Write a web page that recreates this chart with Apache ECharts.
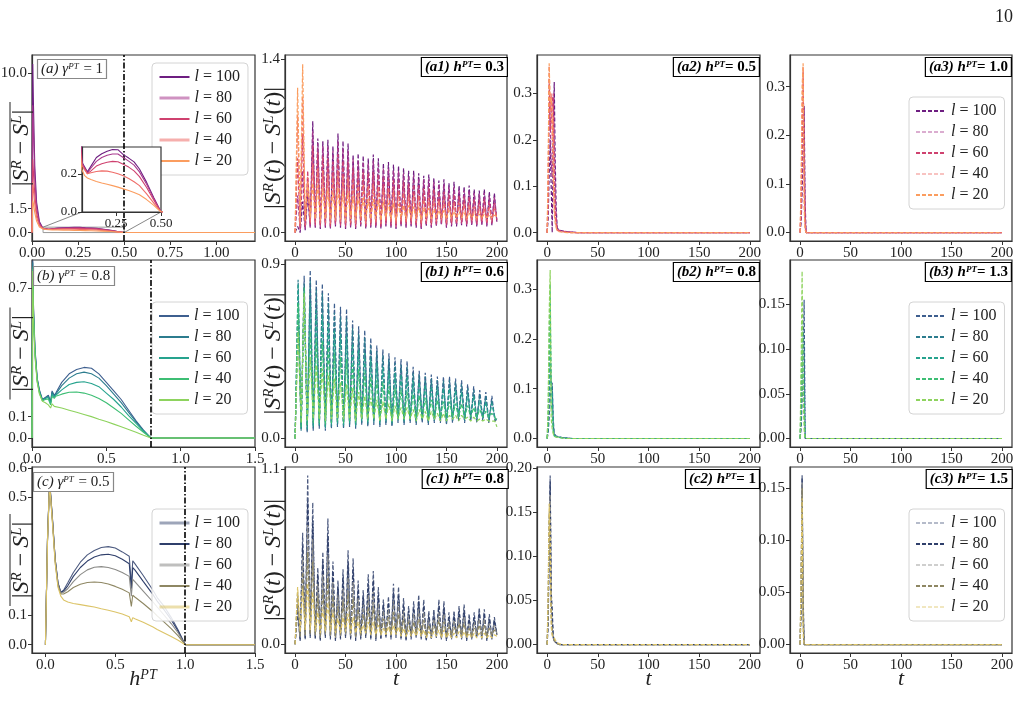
<!DOCTYPE html>
<html>
<head>
<meta charset="utf-8">
<script src="https://cdn.jsdelivr.net/npm/echarts@6/dist/echarts.min.js"></script>
<style>
  html, body { margin: 0; background: #fff; }
  #main { width: 1027px; height: 715px; }
</style>
</head>
<body>
<div id="main"></div>
<script>
// ---- data ----
const lLabels = ["100", "80", "60", "40", "20"];

// column 1: time-averaged |S^R - S^L| vs h^PT
const hA = [0, 0.004, 0.008, 0.015, 0.025, 0.04, 0.06, 0.075, 0.09, 0.11, 0.14, 0.17, 0.2, 0.23, 0.26, 0.29, 0.32, 0.35, 0.38, 0.42, 0.46, 0.5, 0.6, 0.8, 1.0, 1.21];
const aL100 = [0, 10.6, 8.0, 4.2, 1.9, 0.7, 0.26, 0.235, 0.21, 0.24, 0.285, 0.305, 0.318, 0.327, 0.326, 0.3, 0.282, 0.262, 0.225, 0.155, 0.075, 0, 0, 0, 0, 0];
const aL80 = [0, 8.0, 6.3, 3.4, 1.6, 0.6, 0.255, 0.23, 0.205, 0.23, 0.265, 0.285, 0.297, 0.303, 0.303, 0.285, 0.266, 0.245, 0.21, 0.145, 0.07, 0, 0, 0, 0, 0];
const aL60 = [0, 4.6, 3.8, 2.4, 1.2, 0.5, 0.25, 0.225, 0.2, 0.215, 0.24, 0.252, 0.26, 0.265, 0.263, 0.25, 0.235, 0.215, 0.185, 0.128, 0.062, 0, 0, 0, 0, 0];
const aL40 = [0, 3.2, 2.7, 1.8, 0.95, 0.42, 0.245, 0.22, 0.2, 0.205, 0.212, 0.215, 0.214, 0.208, 0.2, 0.19, 0.175, 0.158, 0.138, 0.095, 0.046, 0, 0, 0, 0, 0];
const aL20 = [0, 2.0, 1.8, 1.25, 0.72, 0.35, 0.22, 0.19, 0.178, 0.17, 0.16, 0.152, 0.145, 0.138, 0.13, 0.121, 0.112, 0.102, 0.09, 0.065, 0.035, 0, 0, 0, 0, 0];

const hB = [0, 0.005, 0.01, 0.02, 0.035, 0.05, 0.07, 0.09, 0.11, 0.125, 0.135, 0.15, 0.16, 0.2, 0.25, 0.3, 0.35, 0.4, 0.45, 0.5, 0.55, 0.6, 0.65, 0.7, 0.75, 0.8, 1.0, 1.5];
const bL100 = [0, 0.83, 0.62, 0.42, 0.28, 0.225, 0.18, 0.19, 0.2, 0.17, 0.22, 0.2, 0.21, 0.26, 0.3, 0.32, 0.33, 0.326, 0.3, 0.26, 0.22, 0.18, 0.13, 0.08, 0.037, 0, 0, 0];
const bL80 = [0, 0.82, 0.6, 0.41, 0.275, 0.22, 0.178, 0.188, 0.195, 0.165, 0.215, 0.195, 0.205, 0.245, 0.28, 0.3, 0.308, 0.3, 0.28, 0.245, 0.205, 0.165, 0.12, 0.075, 0.035, 0, 0, 0];
const bL60 = [0, 0.8, 0.58, 0.4, 0.27, 0.215, 0.176, 0.185, 0.19, 0.16, 0.205, 0.19, 0.2, 0.225, 0.25, 0.26, 0.263, 0.255, 0.24, 0.21, 0.18, 0.145, 0.105, 0.068, 0.032, 0, 0, 0];
const bL40 = [0, 0.79, 0.57, 0.39, 0.265, 0.21, 0.174, 0.18, 0.182, 0.155, 0.195, 0.185, 0.195, 0.205, 0.214, 0.215, 0.21, 0.2, 0.185, 0.165, 0.14, 0.115, 0.085, 0.055, 0.027, 0, 0, 0];
const bL20 = [0, 0.78, 0.56, 0.38, 0.26, 0.205, 0.172, 0.165, 0.155, 0.14, 0.16, 0.148, 0.145, 0.14, 0.13, 0.12, 0.11, 0.1, 0.088, 0.077, 0.065, 0.053, 0.04, 0.027, 0.013, 0, 0, 0];

const hC = [0, 0.015, 0.03, 0.05, 0.07, 0.09, 0.11, 0.13, 0.16, 0.2, 0.25, 0.3, 0.35, 0.4, 0.45, 0.5, 0.55, 0.6, 0.615, 0.625, 0.64, 0.7, 0.77, 0.8, 0.85, 0.9, 0.95, 1.0, 1.5];
const cL100 = [0, 0.36, 0.56, 0.43, 0.29, 0.21, 0.178, 0.185, 0.21, 0.245, 0.28, 0.305, 0.32, 0.33, 0.333, 0.328, 0.315, 0.3, 0.2, 0.285, 0.275, 0.235, 0.185, 0.16, 0.13, 0.093, 0.05, 0, 0];
const cL80 = [0, 0.36, 0.555, 0.43, 0.29, 0.21, 0.177, 0.182, 0.2, 0.232, 0.262, 0.284, 0.298, 0.305, 0.307, 0.302, 0.29, 0.275, 0.19, 0.262, 0.254, 0.215, 0.17, 0.148, 0.118, 0.085, 0.046, 0, 0];
const cL60 = [0, 0.355, 0.55, 0.425, 0.285, 0.205, 0.175, 0.178, 0.19, 0.214, 0.238, 0.254, 0.263, 0.265, 0.262, 0.255, 0.245, 0.232, 0.165, 0.222, 0.214, 0.182, 0.145, 0.128, 0.1, 0.072, 0.04, 0, 0];
const cL40 = [0, 0.355, 0.55, 0.42, 0.28, 0.2, 0.172, 0.172, 0.18, 0.194, 0.205, 0.211, 0.213, 0.211, 0.206, 0.198, 0.188, 0.176, 0.13, 0.168, 0.162, 0.14, 0.112, 0.098, 0.077, 0.055, 0.03, 0, 0];
const cL20 = [0, 0.35, 0.545, 0.415, 0.275, 0.195, 0.165, 0.152, 0.145, 0.14, 0.136, 0.132, 0.128, 0.122, 0.117, 0.111, 0.104, 0.095, 0.078, 0.092, 0.088, 0.076, 0.06, 0.052, 0.04, 0.028, 0.015, 0, 0];

// column 2: oscillating |S^R(t) - S^L(t)|
const tA = [0, 2.5, 5, 7.5, 10, 12.5, 15, 17.5, 20, 22.5, 25, 27.5, 30, 32.5, 35, 37.5, 40, 42.5, 45, 47.5, 50, 52.5, 55, 57.5, 60, 62.5, 65, 67.5, 70, 72.5, 75, 77.5, 80, 82.5, 85, 87.5, 90, 92.5, 95, 97.5, 100, 102.5, 105, 107.5, 110, 112.5, 115, 117.5, 120, 122.5, 125, 127.5, 130, 132.5, 135, 137.5, 140, 142.5, 145, 147.5, 150, 152.5, 155, 157.5, 160, 162.5, 165, 167.5, 170, 172.5, 175, 177.5, 180, 182.5, 185, 187.5, 190, 192.5, 195, 197.5, 200];
const tB = [0, 3, 6, 9, 12, 15, 18, 21, 24, 27, 30, 33, 36, 39, 42, 45, 48, 51, 54, 57, 60, 63, 66, 69, 72, 75, 78, 81, 84, 87, 90, 93, 96, 99, 102, 105, 108, 111, 114, 117, 120, 123, 126, 129, 132, 135, 138, 141, 144, 147, 150, 153, 156, 159, 162, 165, 168, 171, 174, 177, 180, 183, 186, 189, 192, 195, 198, 200];

const a1L100 = [0,0.05,0,0.25,0.02,0.3,0.05,0.9,0.04,0.76, 0.03,0.74,0.04,0.75,0.03,0.7,0.05,0.8,0.04,0.74, 0.03,0.72,0.04,0.63,0.03,0.64,0.05,0.62,0.03,0.6, 0.04,0.63,0.04,0.6,0.03,0.56,0.05,0.57,0.04,0.55, 0.03,0.54,0.05,0.52,0.04,0.5,0.05,0.5,0.04,0.48, 0.03,0.46,0.05,0.47,0.04,0.44,0.05,0.42,0.06,0.43, 0.04,0.4,0.05,0.41,0.05,0.38,0.06,0.37,0.05,0.38, 0.06,0.35,0.05,0.34,0.06,0.35,0.05,0.33,0.06,0.32, 0.08];
const a1L80 = [0,0.3,0.02,0.5,0.03,0.35,0.04,0.82,0.05,0.72, 0.04,0.7,0.05,0.7,0.04,0.66,0.06,0.74,0.05,0.68, 0.04,0.66,0.05,0.6,0.04,0.58,0.06,0.57,0.04,0.56, 0.05,0.58,0.05,0.55,0.04,0.52,0.06,0.52,0.05,0.5, 0.04,0.5,0.06,0.48,0.05,0.46,0.06,0.46,0.05,0.44, 0.04,0.43,0.06,0.43,0.05,0.41,0.06,0.39,0.07,0.39, 0.05,0.37,0.06,0.37,0.06,0.35,0.07,0.34,0.06,0.34, 0.07,0.32,0.06,0.31,0.07,0.32,0.06,0.3,0.07,0.29, 0.09];
const a1L60 = [0,0.6,0.03,0.8,0.05,0.5,0.06,0.7,0.06,0.65, 0.05,0.62,0.06,0.6,0.05,0.57,0.07,0.63,0.06,0.58, 0.05,0.57,0.06,0.52,0.05,0.5,0.07,0.49,0.05,0.48, 0.06,0.49,0.06,0.47,0.05,0.45,0.07,0.44,0.06,0.43, 0.05,0.42,0.07,0.41,0.06,0.39,0.07,0.39,0.06,0.38, 0.05,0.36,0.07,0.36,0.06,0.35,0.07,0.33,0.08,0.33, 0.06,0.31,0.07,0.31,0.07,0.3,0.08,0.29,0.07,0.29, 0.08,0.27,0.07,0.26,0.08,0.27,0.07,0.25,0.08,0.24, 0.1];
const a1L40 = [0,0.95,0.05,1.1,0.06,0.45,0.08,0.55,0.08,0.52, 0.07,0.5,0.08,0.48,0.07,0.46,0.09,0.5,0.08,0.46, 0.07,0.45,0.08,0.42,0.07,0.4,0.09,0.39,0.07,0.38, 0.08,0.39,0.08,0.37,0.07,0.36,0.09,0.35,0.08,0.34, 0.07,0.33,0.09,0.32,0.08,0.31,0.09,0.31,0.08,0.3, 0.07,0.29,0.09,0.28,0.08,0.27,0.09,0.26,0.1,0.26, 0.08,0.25,0.09,0.24,0.09,0.24,0.1,0.23,0.09,0.22, 0.1,0.21,0.09,0.21,0.1,0.2,0.09,0.2,0.1,0.19, 0.12];
const a1L20 = [0,1.17,0.08,1.36,0.1,0.4,0.12,0.4,0.11,0.38, 0.1,0.36,0.11,0.35,0.1,0.33,0.12,0.36,0.11,0.33, 0.1,0.32,0.11,0.3,0.1,0.29,0.12,0.28,0.1,0.27, 0.11,0.27,0.11,0.26,0.1,0.25,0.12,0.24,0.11,0.24, 0.1,0.23,0.12,0.22,0.11,0.22,0.12,0.21,0.11,0.21, 0.1,0.2,0.12,0.2,0.11,0.19,0.12,0.18,0.12,0.18, 0.11,0.18,0.12,0.17,0.12,0.17,0.12,0.16,0.12,0.16, 0.12,0.15,0.12,0.15,0.12,0.15,0.12,0.14,0.12,0.14, 0.13];

const b1L100 = [0,0.6,0.05,0.84,0.03,0.87,0.04,0.82,0.05,0.8, 0.04,0.75,0.05,0.7,0.06,0.68,0.05,0.67,0.06,0.61, 0.05,0.58,0.07,0.56,0.06,0.52,0.07,0.48,0.06,0.46, 0.07,0.44,0.06,0.42,0.08,0.41,0.07,0.4,0.08,0.37, 0.07,0.35,0.08,0.34,0.07,0.33,0.08,0.32,0.08,0.32, 0.07,0.32,0.08,0.31,0.09,0.3,0.08,0.28,0.09,0.27, 0.08,0.25,0.09,0.24,0.08,0.22,0.09,0.1];
const b1L80 = [0,0.82,0.04,0.8,0.04,0.82,0.05,0.77,0.06,0.75, 0.05,0.7,0.06,0.65,0.07,0.63,0.06,0.62,0.07,0.57, 0.06,0.54,0.08,0.52,0.07,0.48,0.08,0.45,0.07,0.43, 0.08,0.41,0.07,0.39,0.09,0.38,0.08,0.37,0.09,0.34, 0.08,0.33,0.09,0.32,0.08,0.31,0.09,0.3,0.09,0.3, 0.08,0.3,0.09,0.29,0.1,0.28,0.09,0.26,0.1,0.25, 0.09,0.23,0.1,0.22,0.09,0.2,0.1,0.1];
const b1L60 = [0,0.8,0.05,0.72,0.05,0.7,0.06,0.66,0.07,0.64, 0.06,0.6,0.07,0.56,0.08,0.54,0.07,0.53,0.08,0.49, 0.07,0.46,0.09,0.44,0.08,0.41,0.09,0.39,0.08,0.37, 0.09,0.35,0.08,0.34,0.1,0.33,0.09,0.32,0.1,0.3, 0.09,0.29,0.1,0.28,0.09,0.27,0.1,0.26,0.1,0.26, 0.09,0.26,0.1,0.25,0.11,0.24,0.1,0.23,0.11,0.22, 0.1,0.2,0.11,0.19,0.1,0.18,0.11,0.1];
const b1L40 = [0,0.7,0.06,0.78,0.07,0.55,0.08,0.52,0.08,0.5, 0.07,0.47,0.08,0.44,0.09,0.42,0.08,0.41,0.09,0.38, 0.08,0.36,0.1,0.34,0.09,0.32,0.1,0.3,0.09,0.29, 0.1,0.27,0.09,0.26,0.1,0.25,0.1,0.24,0.1,0.23, 0.1,0.22,0.1,0.21,0.1,0.2,0.1,0.2,0.11,0.19, 0.1,0.19,0.11,0.18,0.11,0.18,0.11,0.17,0.11,0.16, 0.11,0.15,0.11,0.14,0.11,0.13,0.11,0.09];
const b1L20 = [0,0.55,0.08,0.75,0.09,0.42,0.1,0.38,0.1,0.36, 0.09,0.33,0.1,0.31,0.1,0.29,0.1,0.28,0.1,0.26, 0.09,0.24,0.1,0.22,0.1,0.21,0.1,0.2,0.09,0.19, 0.1,0.18,0.09,0.17,0.1,0.16,0.1,0.16,0.1,0.15, 0.09,0.15,0.1,0.14,0.09,0.14,0.1,0.13,0.09,0.13, 0.09,0.12,0.1,0.12,0.09,0.12,0.1,0.11,0.09,0.11, 0.09,0.1,0.09,0.1,0.09,0.09,0.09,0.06];

const c1L100 = [0,0.2,0.02,0.7,0.03,1.06,0.04,0.89,0.03,0.48, 0.02,0.58,0.04,0.79,0.03,0.52,0.02,0.4,0.03,0.47, 0.04,0.59,0.03,0.54,0.02,0.4,0.03,0.34,0.04,0.44, 0.03,0.46,0.02,0.36,0.03,0.28,0.04,0.3,0.03,0.38, 0.04,0.36,0.03,0.29,0.02,0.24,0.03,0.27,0.04,0.31, 0.03,0.28,0.02,0.21,0.03,0.22,0.04,0.28,0.03,0.27, 0.02,0.2,0.03,0.21,0.04,0.24,0.03,0.25,0.02,0.19, 0.03,0.2,0.04,0.23,0.03,0.22,0.02,0.19,0.03,0.17, 0.06];
const c1L80 = [0,0.25,0.03,0.62,0.04,0.9,0.05,0.78,0.04,0.44, 0.03,0.52,0.05,0.68,0.04,0.46,0.03,0.36,0.04,0.42, 0.05,0.51,0.04,0.47,0.03,0.35,0.04,0.3,0.05,0.38, 0.04,0.4,0.03,0.31,0.04,0.25,0.05,0.26,0.04,0.33, 0.05,0.31,0.04,0.25,0.03,0.21,0.04,0.23,0.05,0.27, 0.04,0.24,0.03,0.18,0.04,0.19,0.05,0.24,0.04,0.23, 0.03,0.17,0.04,0.18,0.05,0.21,0.04,0.21,0.03,0.16, 0.04,0.17,0.05,0.2,0.04,0.19,0.03,0.16,0.04,0.15, 0.06];
const c1L60 = [0,0.3,0.04,0.55,0.05,0.75,0.06,0.66,0.05,0.38, 0.04,0.44,0.06,0.56,0.05,0.39,0.04,0.31,0.05,0.35, 0.06,0.42,0.05,0.39,0.04,0.29,0.05,0.25,0.06,0.31, 0.05,0.33,0.04,0.26,0.05,0.21,0.06,0.22,0.05,0.27, 0.06,0.26,0.05,0.21,0.04,0.18,0.05,0.19,0.06,0.22, 0.05,0.2,0.04,0.15,0.05,0.16,0.06,0.2,0.05,0.19, 0.04,0.14,0.05,0.15,0.06,0.17,0.05,0.17,0.04,0.13, 0.05,0.14,0.06,0.16,0.05,0.16,0.04,0.13,0.05,0.12, 0.06];
const c1L40 = [0,0.33,0.05,0.45,0.06,0.58,0.07,0.52,0.06,0.3, 0.05,0.34,0.07,0.42,0.06,0.3,0.05,0.24,0.06,0.27, 0.07,0.32,0.06,0.29,0.05,0.22,0.06,0.19,0.07,0.23, 0.06,0.24,0.05,0.19,0.06,0.16,0.07,0.17,0.06,0.2, 0.07,0.19,0.06,0.16,0.05,0.14,0.06,0.14,0.07,0.16, 0.06,0.15,0.05,0.12,0.06,0.12,0.07,0.15,0.06,0.14, 0.05,0.11,0.06,0.11,0.07,0.13,0.06,0.13,0.05,0.1, 0.06,0.1,0.07,0.12,0.06,0.12,0.05,0.1,0.06,0.09, 0.07];
const c1L20 = [0,0.36,0.08,0.35,0.09,0.38,0.09,0.33,0.08,0.2, 0.07,0.22,0.08,0.26,0.08,0.2,0.07,0.16,0.07,0.17, 0.08,0.19,0.07,0.17,0.07,0.14,0.07,0.12,0.07,0.14, 0.06,0.14,0.06,0.12,0.06,0.1,0.06,0.11,0.06,0.12, 0.06,0.11,0.05,0.1,0.05,0.09,0.05,0.09,0.05,0.1, 0.05,0.09,0.04,0.08,0.04,0.08,0.05,0.09,0.04,0.09, 0.04,0.07,0.04,0.07,0.04,0.08,0.04,0.08,0.04,0.07, 0.04,0.07,0.04,0.07,0.04,0.07,0.04,0.06,0.04,0.06, 0.05];

// columns 3 and 4: fast decaying spikes
const tS = [0, 1, 2, 3, 4, 5, 6, 7, 8, 9, 10, 12, 15, 20, 25, 30, 50, 100, 150, 200];
const a2L100 = [0,0.03,0.12,0.2,0.1,0,0.2,0.325,0.15,0.05,0.01,0.005,0.004,0.002,0.001,0,0,0,0,0];
const a2L80 = [0,0.05,0.28,0.25,0.15,0.12,0.29,0.2,0.08,0.03,0.008,0.005,0.003,0.002,0.001,0,0,0,0,0];
const a2L60 = [0,0.08,0.33,0.22,0.24,0.28,0.3,0.12,0.05,0.02,0.006,0.004,0.003,0.001,0,0,0,0,0,0];
const a2L40 = [0,0.1,0.36,0.26,0.3,0.2,0.25,0.06,0.03,0.012,0.005,0.003,0.002,0.001,0,0,0,0,0,0];
const a2L20 = [0,0.15,0.365,0.28,0.29,0.27,0.12,0.04,0.02,0.01,0.004,0.002,0.001,0,0,0,0,0,0,0];

const a3L100 = [0,0.02,0.08,0.16,0.26,0.06,0,0,0,0,0,0,0,0,0,0,0,0,0,0];
const a3L80 = [0,0.04,0.15,0.3,0.2,0.03,0,0,0,0,0,0,0,0,0,0,0,0,0,0];
const a3L60 = [0,0.05,0.2,0.33,0.15,0.02,0,0,0,0,0,0,0,0,0,0,0,0,0,0];
const a3L40 = [0,0.07,0.25,0.34,0.1,0.01,0,0,0,0,0,0,0,0,0,0,0,0,0,0];
const a3L20 = [0,0.1,0.3,0.348,0.05,0.005,0,0,0,0,0,0,0,0,0,0,0,0,0,0];

const b2L100 = [0,0.01,0.04,0.08,0.1,0.112,0.04,0.01,0.006,0.005,0.004,0.003,0.002,0.001,0,0,0,0,0,0];
const b2L80 = [0,0.02,0.08,0.15,0.11,0.105,0.03,0.008,0.005,0.004,0.004,0.003,0.002,0.001,0,0,0,0,0,0];
const b2L60 = [0,0.03,0.12,0.25,0.1,0.09,0.02,0.006,0.005,0.004,0.003,0.002,0.001,0,0,0,0,0,0,0];
const b2L40 = [0,0.05,0.2,0.31,0.07,0.05,0.015,0.005,0.004,0.003,0.003,0.002,0.001,0,0,0,0,0,0,0];
const b2L20 = [0,0.06,0.25,0.338,0.04,0.02,0.01,0.004,0.003,0.003,0.002,0.002,0.001,0,0,0,0,0,0,0];

const b3L100 = [0,0.01,0.04,0.09,0.155,0,0,0,0,0,0,0,0,0,0,0,0,0,0,0];
const b3L80 = [0,0.02,0.07,0.12,0.1,0,0,0,0,0,0,0,0,0,0,0,0,0,0,0];
const b3L60 = [0,0.03,0.1,0.07,0.04,0,0,0,0,0,0,0,0,0,0,0,0,0,0,0];
const b3L40 = [0,0.05,0.13,0.06,0.03,0,0,0,0,0,0,0,0,0,0,0,0,0,0,0];
const b3L20 = [0,0.08,0.187,0.05,0.01,0,0,0,0,0,0,0,0,0,0,0,0,0,0,0];

const c2L100 = [0,0.02,0.1,0.192,0.06,0.042,0.01,0.005,0.003,0.002,0.001,0,0,0,0,0,0,0,0,0];
const c2L80 = [0,0.03,0.12,0.185,0.05,0.03,0.008,0.004,0.003,0.002,0.001,0,0,0,0,0,0,0,0,0];
const c2L60 = [0,0.04,0.14,0.17,0.04,0.02,0.007,0.004,0.002,0.001,0,0,0,0,0,0,0,0,0,0];
const c2L40 = [0,0.05,0.15,0.15,0.03,0.012,0.008,0.005,0.003,0.002,0.001,0,0,0,0,0,0,0,0,0];
const c2L20 = [0,0.06,0.16,0.12,0.02,0.01,0.012,0.008,0.005,0.004,0.002,0.001,0,0,0,0,0,0,0,0];

const c3L100 = [0,0.03,0.162,0.05,0,0,0,0,0,0,0,0,0,0,0,0,0,0,0,0];
const c3L80 = [0,0.04,0.16,0.04,0,0,0,0,0,0,0,0,0,0,0,0,0,0,0,0];
const c3L60 = [0,0.05,0.155,0.03,0,0,0,0,0,0,0,0,0,0,0,0,0,0,0,0];
const c3L40 = [0,0.06,0.15,0.02,0,0,0,0,0,0,0,0,0,0,0,0,0,0,0,0];
const c3L20 = [0,0.07,0.14,0.01,0,0,0,0,0,0,0,0,0,0,0,0,0,0,0,0];

// ---- styling ----
const FONT = "'Liberation Serif', 'DejaVu Serif', serif";
const INK = "#222";
const rowColors = {
  a: ["#6e1e81", "#a8398e", "#cf416f", "#ef6e6a", "#fb9d5f"],
  b: ["#3e5f8f", "#2c7c8e", "#26a38e", "#3dbe74", "#8ed35e"],
  c: ["#4d5b80", "#2f3f6b", "#8b8b88", "#8e8763", "#dcc468"],
};
// legend entries drawn lighter/thicker in the original
const lightInLegend = { a: [1, 3], b: [], c: [0, 2, 4] };

const colLeft = [32, 285, 537, 790];
const colWidth = [223, 222, 223, 222];
const rowTop = [55, 260, 467];
const rowHeight = [186, 187, 186];

const tTicks = [0, 50, 100, 150, 200];
const panels = [
  { id: "a", row: 0, col: 0, x: hA, ys: [aL100, aL80, aL60, aL40, aL20], xr: [0, 1.21], xt: [0, 0.25, 0.5, 0.75, 1.0], xd: 2, yr: [-0.53, 11.16], yt: [0, 1.5, 10], yd: 1, vline: 0.5 },
  { id: "a1", row: 0, col: 1, x: tA, ys: [a1L100, a1L80, a1L60, a1L40, a1L20], yr: [-0.068, 1.435], yt: [0, 1.4], yd: 1 },
  { id: "a2", row: 0, col: 2, x: tS, ys: [a2L100, a2L80, a2L60, a2L40, a2L20], yr: [-0.018, 0.383], yt: [0, 0.1, 0.2, 0.3], yd: 1 },
  { id: "a3", row: 0, col: 3, x: tS, ys: [a3L100, a3L80, a3L60, a3L40, a3L20], yr: [-0.0174, 0.365], yt: [0, 0.1, 0.2, 0.3], yd: 1 },
  { id: "b", row: 1, col: 0, x: hB, ys: [bL100, bL80, bL60, bL40, bL20], xr: [0, 1.5], xt: [0, 0.5, 1.0, 1.5], xd: 1, yr: [-0.042, 0.832], yt: [0, 0.1, 0.7], yd: 1, vline: 0.8 },
  { id: "b1", row: 1, col: 1, x: tB, ys: [b1L100, b1L80, b1L60, b1L40, b1L20], yr: [-0.044, 0.922], yt: [0, 0.9], yd: 1 },
  { id: "b2", row: 1, col: 2, x: tS, ys: [b2L100, b2L80, b2L60, b2L40, b2L20], yr: [-0.017, 0.358], yt: [0, 0.1, 0.2, 0.3], yd: 1 },
  { id: "b3", row: 1, col: 3, x: tS, ys: [b3L100, b3L80, b3L60, b3L40, b3L20], yr: [-0.0095, 0.1995], yt: [0, 0.05, 0.1, 0.15], yd: 2 },
  { id: "c", row: 2, col: 0, x: hC, ys: [cL100, cL80, cL60, cL40, cL20], xr: [-0.096, 1.5], xt: [0, 0.5, 1.0, 1.5], xd: 1, yr: [-0.028, 0.603], yt: [0, 0.1, 0.5, 0.6], yd: 1, vline: 1.0 },
  { id: "c1", row: 2, col: 1, x: tA, ys: [c1L100, c1L80, c1L60, c1L40, c1L20], yr: [-0.055, 1.113], yt: [0, 1.1], yd: 1 },
  { id: "c2", row: 2, col: 2, x: tS, ys: [c2L100, c2L80, c2L60, c2L40, c2L20], yr: [-0.0096, 0.2016], yt: [0, 0.05, 0.1, 0.15, 0.2], yd: 2 },
  { id: "c3", row: 2, col: 3, x: tS, ys: [c3L100, c3L80, c3L60, c3L40, c3L20], yr: [-0.0081, 0.17], yt: [0, 0.05, 0.1, 0.15], yd: 2 },
];

// rich styles for ECharts text (color) and for raw zrender graphic text (fill)
const richMath = (size, key) => {
  const c = {};
  c[key || "color"] = INK;
  const b = {};
  b[key || "color"] = "#000";
  return {
    i: Object.assign({ fontFamily: FONT, fontStyle: "italic", fontWeight: "normal", fontSize: size }, c),
    n: Object.assign({ fontFamily: FONT, fontStyle: "normal", fontWeight: "normal", fontSize: size }, c),
    m: Object.assign({ fontFamily: FONT, fontStyle: "normal", fontWeight: "normal", fontSize: size, padding: [0, 5, 0, 5] }, c),
    s: Object.assign({ fontFamily: FONT, fontStyle: "italic", fontWeight: "normal", fontSize: Math.round(size * 0.62), verticalAlign: "top", padding: [0, 1, 0, 0] }, c),
    bi: Object.assign({ fontFamily: FONT, fontStyle: "italic", fontWeight: "bold", fontSize: size }, b),
    b: Object.assign({ fontFamily: FONT, fontStyle: "normal", fontWeight: "bold", fontSize: size }, b),
    bs: Object.assign({ fontFamily: FONT, fontStyle: "italic", fontWeight: "bold", fontSize: Math.round(size * 0.62), verticalAlign: "top" }, b),
  };
};

function makeAxis(gi, range, ticks, dec, fs, extra) {
  return Object.assign({
    type: "value", gridIndex: gi, min: range[0], max: range[1],
    axisLine: { show: true, onZero: false, lineStyle: { color: "#333", width: 1.2 } },
    axisTick: { show: true, length: 4, customValues: ticks, lineStyle: { color: "#333", width: 1 } },
    axisLabel: { customValues: ticks, formatter: (v) => Number(v).toFixed(dec), fontFamily: FONT, fontSize: fs, color: INK, margin: 5 },
    splitLine: { show: false },
  }, extra || {});
}

const grids = [], xAxes = [], yAxes = [], series = [], legends = [], titles = [];

panels.forEach((p, gi) => {
  grids.push({ left: colLeft[p.col], top: rowTop[p.row], width: colWidth[p.col], height: rowHeight[p.row],
    show: true, borderColor: "#333", borderWidth: 1.2, backgroundColor: "transparent", outerBoundsMode: "none", containLabel: false });
  const isH = p.col === 0;
  const xExtra = {};
  if (p.row === 2) {
    xExtra.name = isH ? "{i|h}{s|PT}" : "{i|t}";
    xExtra.nameLocation = "middle";
    xExtra.nameGap = 15;
    xExtra.nameMoveOverlap = false;
    xExtra.nameTextStyle = { fontFamily: FONT, fontSize: 22, color: INK, rich: richMath(22) };
  }
  xAxes.push(makeAxis(gi, isH ? p.xr : [-10, 210], isH ? p.xt : tTicks, isH ? p.xd : 0, 15, xExtra));
  yAxes.push(makeAxis(gi, p.yr, p.yt, p.yd, 15));

  const rowKey = p.id[0];
  const dashed = p.col > 0;
  p.ys.forEach((ys, k) => {
    const s = {
      name: p.id + ":" + lLabels[k], type: "line", xAxisIndex: gi, yAxisIndex: gi,
      data: p.x.map((x, i) => [x, ys[i]]),
      symbol: "none", showSymbol: false, silent: true, animation: false,
      lineStyle: { color: rowColors[rowKey][k], width: dashed ? 1.2 : 1.1, type: dashed ? [4, 2] : "solid" },
      itemStyle: { color: rowColors[rowKey][k] },
      z: 2 + k * 0.01,
    };
    if (p.vline !== undefined && k === 4) {
      s.markLine = { silent: true, symbol: ["none", "none"], label: { show: false }, animation: false,
        lineStyle: { color: "#000", width: 1.6, type: [6, 2, 1.5, 2] }, data: [{ xAxis: p.vline }] };
    }
    if (p.id === "a" && k === 0) {
      s.markArea = { silent: true, itemStyle: { color: "rgba(0,0,0,0)", borderColor: "#999", borderWidth: 1 },
        data: [[{ coord: [0.06, 0] }, { coord: [0.5, 0.34] }]] };
    }
    series.push(s);
  });

  // legends in column 1 and column 4
  if (p.col === 0 || p.col === 3) {
    legends.push({
      data: lLabels.map((l, k) => {
        const item = { name: p.id + ":" + l };
        if (lightInLegend[rowKey].indexOf(k) >= 0) {
          item.lineStyle = { width: p.col === 0 ? 3 : 1.6, opacity: 0.55 };
        }
        return item;
      }),
      orient: "vertical", left: p.col === 0 ? 152 : 909, top: rowTop[p.row] + (p.row === 0 && p.col === 0 ? 8 : 42),
      itemWidth: 30, itemHeight: 10, itemGap: 3, padding: [5, 8, 5, 6],
      itemStyle: { opacity: 0 },
      borderColor: "#d4d4d4", borderWidth: 1, borderRadius: 4, backgroundColor: "rgba(255,255,255,0.85)",
      selectedMode: false, z: 3,
      textStyle: { fontFamily: FONT, fontSize: 16, color: INK, lineHeight: 18, rich: { i: { fontFamily: FONT, fontStyle: "italic", fontSize: 16, color: INK } } },
      formatter: (name) => "{i|l} = " + name.split(":")[1],
    });
  }
});

// inset zoom of panel (a)
const INSET = grids.length;
grids.push({ left: 82, top: 147, width: 79, height: 65, show: true, backgroundColor: "#fff",
  borderColor: "#333", borderWidth: 1.2, z: 5, outerBoundsMode: "none", containLabel: false });
xAxes.push(makeAxis(INSET, [0.06, 0.5], [0.25, 0.5], 2, 13, { z: 6 }));
yAxes.push(makeAxis(INSET, [0, 0.34], [0, 0.2], 1, 13, { z: 6 }));
[aL100, aL80, aL60, aL40, aL20].forEach((ys, k) => {
  series.push({
    name: "inset:" + lLabels[k], type: "line", xAxisIndex: INSET, yAxisIndex: INSET,
    data: hA.map((x, i) => [x, ys[i]]), symbol: "none", showSymbol: false, silent: true, animation: false,
    lineStyle: { color: rowColors.a[k], width: 1.1 }, z: 7, clip: true,
  });
});

// panel tags
const tag = (text, pos, framed) => Object.assign({
  text, padding: [3, 4, 2, 4], borderWidth: 1.2, borderColor: framed, backgroundColor: "#fff",
  textStyle: { fontFamily: FONT, fontSize: 15, fontWeight: "normal", color: INK, rich: richMath(15) },
}, pos);
titles.push(tag("{i|(a) γ}{s|PT}{n| = 1}", { left: 37, top: 59 }, "#888"));
titles.push(tag("{i|(b) γ}{s|PT}{n| = 0.8}", { left: 33, top: 266 }, "#888"));
titles.push(tag("{i|(c) γ}{s|PT}{n| = 0.5}", { left: 33, top: 472 }, "#888"));
const tagRight = [1027 - 508, 1027 - 760, 1027 - 1012];
const tagTop = [57, 262, 469];
const hTags = [["0.3", "0.5", "1.0"], ["0.6", "0.8", "1.3"], ["0.8", "1", "1.5"]];
["a", "b", "c"].forEach((r, ri) => {
  [1, 2, 3].forEach((c, ci) => {
    titles.push(tag("{bi|(" + r + c + ") h}{bs|PT}{b|= " + hTags[ri][ci] + "}", { right: tagRight[ci], top: tagTop[ri] }, "#000"));
  });
});
titles.push({ text: "10", right: 9, top: 3, textStyle: { fontFamily: FONT, fontSize: 18, fontWeight: "normal", color: INK } });

const chart = echarts.init(document.getElementById("main"), null, { renderer: "canvas" });
chart.setOption({
  backgroundColor: "#fff",
  animation: false,
  title: titles,
  legend: legends,
  grid: grids,
  xAxis: xAxes,
  yAxis: yAxes,
  series: series,
});

// rotated y-axis titles, the inset connector lines
const graphics = [];
const yName1 = "|{i|S}{s|R}{m|−}{i|S}{s|L}|";
const yName2 = "|{i|S}{s|R}({i|t}){m|−}{i|S}{s|L}({i|t})|";
rowTop.forEach((top, r) => {
  const cy = top + rowHeight[r] / 2;
  [[22, yName1], [274, yName2]].forEach(([cx, txt], c) => {
    graphics.push({
      type: "text", x: cx, y: cy, rotation: Math.PI / 2, silent: true, z: 10,
      style: { text: txt, align: "center", verticalAlign: "middle", fill: INK,
        font: "24px " + FONT, rich: richMath(24, "fill") },
    });
    if (c === 0) {
      graphics.push({ type: "line", silent: true, z: 10,
        shape: { x1: 10, y1: cy - 46, x2: 10, y2: cy + 46 }, style: { stroke: INK, lineWidth: 1 } });
    }
  });
});
const p1 = chart.convertToPixel({ gridIndex: INSET }, [0.06, 0]);
const q1 = chart.convertToPixel({ gridIndex: 0 }, [0.06, 0.34]);
const p2 = chart.convertToPixel({ gridIndex: INSET }, [0.5, 0]);
const q2 = chart.convertToPixel({ gridIndex: 0 }, [0.5, 0]);
graphics.push({ type: "line", silent: true, z: 4, shape: { x1: p1[0], y1: p1[1], x2: q1[0], y2: q1[1] }, style: { stroke: "#888", lineWidth: 1 } });
graphics.push({ type: "line", silent: true, z: 4, shape: { x1: p2[0], y1: p2[1], x2: q2[0], y2: q2[1] }, style: { stroke: "#888", lineWidth: 1 } });
chart.setOption({ graphic: graphics });
</script>
</body>
</html>
